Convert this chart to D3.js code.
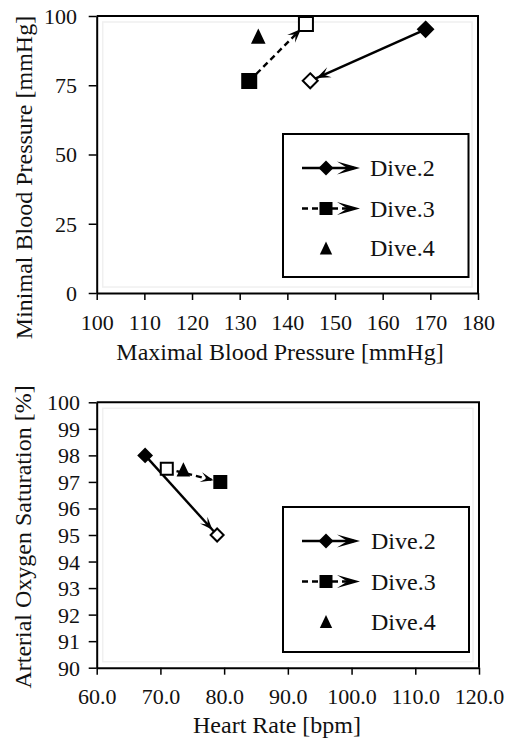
<!DOCTYPE html>
<html><head><meta charset="utf-8">
<script src="https://cdn.jsdelivr.net/npm/d3@7"></script>
<style>body{margin:0;background:#fff}svg{display:block}
svg text{font-family:"Liberation Serif","DejaVu Serif",serif;fill:#111}</style>
</head><body><svg id="c" width="508" height="740"></svg>
<script>
// ---------- DATA ----------
const seriesNames = ["Dive.2", "Dive.3", "Dive.4"];
// Top chart: [start, end] of each dive (Dive.4 single point)
const bpMaxValues = [[169, 144.8], [132, 143.9], [133.9]];
const bpMinValues = [[95.2, 76.6], [76.5, 97.1], [92.5]];
const bpXTicks = [100, 110, 120, 130, 140, 150, 160, 170, 180];
const bpYTicks = [0, 25, 50, 75, 100];
// Bottom chart: [start, end] of each dive (Dive.4 single point)
const hrValues = [[67.6, 78.9], [71.0, 79.4], [73.6]];
const spo2Values = [[98.0, 95.0], [97.5, 97.0], [97.45]];
const hrXTicks = [60, 70, 80, 90, 100, 110, 120];
const spo2YTicks = [90, 91, 92, 93, 94, 95, 96, 97, 98, 99, 100];

// ---------- DRAWING ----------
const svg = d3.select("#c");
svg.append("rect").attr("width", 508).attr("height", 740).attr("fill", "#fff");

function markerPath(type, s) {
  const h = s / 2;
  if (type === "diamond") return `M0,${-h}L${h},0L0,${h}L${-h},0Z`;
  if (type === "square") return `M${-h},${-h}H${h}V${h}H${-h}Z`;
  return `M0,${-h}L${h * 0.95},${h}L${-h * 0.95},${h}Z`;
}
function arrowPath(L, W) {
  return `M0,0L${-L},${-W / 2}L${-L * 0.55},0L${-L},${W / 2}Z`;
}
const markerTypes = ["diamond", "square", "triangle"];

function drawChart(o) {
  const g = svg.append("g");
  const x = d3.scaleLinear().domain(o.xDomain).range([o.left, o.right]);
  const y = d3.scaleLinear().domain(o.yDomain).range([o.bottom, o.top]);

  g.append("rect").attr("x", o.left + 6).attr("y", o.top + 6)
    .attr("width", o.right - o.left - 12).attr("height", o.bottom - o.top - 12)
    .attr("fill", "none").attr("stroke", "#f0f0f0").attr("stroke-width", 1.5);

  const xa = g.append("g").attr("transform", `translate(0,${o.bottom})`)
    .call(d3.axisBottom(x).tickValues(o.xTicks).tickFormat(o.xFmt).tickSize(7).tickSizeOuter(0));
  const ya = g.append("g").attr("transform", `translate(${o.left},0)`)
    .call(d3.axisLeft(y).tickValues(o.yTicks).tickFormat(d3.format("d")).tickSize(8).tickSizeOuter(0));
  [xa, ya].forEach(a => {
    a.attr("font-family", null).attr("font-size", null);
    a.select(".domain").attr("stroke", "#000").attr("stroke-width", 2);
    a.selectAll(".tick line").attr("stroke", "#000").attr("stroke-width", 1.5);
    a.selectAll("text").style("font-size", "22px").attr("fill", "#111");
  });
  xa.selectAll("text").attr("y", o.xLabelOff).attr("dy", 0);
  ya.selectAll("text").attr("x", o.yLabelX - o.left).attr("dy", "0.34em");

  g.append("path").attr("d", `M${o.left},${o.top}H${o.right}V${o.bottom}`)
    .attr("fill", "none").attr("stroke", "#000").attr("stroke-width", 2);

  const xs = o.xVals, ys = o.yVals;
  seriesNames.forEach((name, i) => {
    const pts = xs[i].map((v, j) => [x(v), y(ys[i][j])]);
    if (pts.length === 2) {
      const [p0, p1] = pts;
      g.append("line").attr("x1", p0[0]).attr("y1", p0[1]).attr("x2", p1[0]).attr("y2", p1[1])
        .attr("stroke", "#000").attr("stroke-width", 2.4)
        .attr("stroke-dasharray", i === 1 ? "6,4" : null);
      const ang = Math.atan2(p1[1] - p0[1], p1[0] - p0[0]);
      const tx = p1[0] - Math.cos(ang) * o.tipOff, ty = p1[1] - Math.sin(ang) * o.tipOff;
      g.append("path").attr("d", arrowPath(o.arrL, o.arrW))
        .attr("transform", `translate(${tx},${ty}) rotate(${ang * 180 / Math.PI})`)
        .attr("fill", "#000");
    }
    pts.forEach((p, j) => {
      const filled = pts.length === 1 || j === o.filledIdx[i];
      g.append("path").attr("d", markerPath(markerTypes[i], o.msize[i]))
        .attr("transform", `translate(${p[0]},${p[1]})`)
        .attr("fill", filled ? "#000" : "#fff").attr("stroke", "#000").attr("stroke-width", 2);
    });
  });

  g.append("text").attr("x", o.xTitleX).attr("y", o.xTitleY).attr("text-anchor", "middle")
    .style("font-size", "24px").text(o.xTitle);
  g.append("text").attr("transform", `translate(${o.yTitleX},${o.yTitleY}) rotate(-90)`)
    .attr("text-anchor", "middle").style("font-size", "24px").text(o.yTitle);

  const L = o.legend;
  g.append("rect").attr("x", L.x).attr("y", L.y).attr("width", L.w).attr("height", L.h)
    .attr("fill", "#fff").attr("stroke", "#000").attr("stroke-width", 2);
  seriesNames.forEach((name, i) => {
    const cy = L.rows[i];
    if (i < 2) {
      g.append("line").attr("x1", L.sx0).attr("x2", L.tip - 6).attr("y1", cy).attr("y2", cy)
        .attr("stroke", "#000").attr("stroke-width", 2.4)
        .attr("stroke-dasharray", i === 1 ? "6,4" : null);
      g.append("path").attr("d", arrowPath(23, 13))
        .attr("transform", `translate(${L.tip},${cy})`).attr("fill", "#000");
    }
    g.append("path").attr("d", markerPath(markerTypes[i], i === 0 ? 15 : 13))
      .attr("transform", `translate(${L.mx},${cy})`).attr("fill", "#000");
    g.append("text").attr("x", L.tx).attr("y", cy + 8).style("font-size", "24px").text(name);
  });
}

drawChart({
  xDomain: [100, 180], yDomain: [0, 100], left: 96.7, right: 478, top: 16, bottom: 293,
  xTicks: bpXTicks, yTicks: bpYTicks, xFmt: d3.format("d"),
  xLabelOff: 37, yLabelX: 77,
  xVals: bpMaxValues, yVals: bpMinValues, filledIdx: [0, 0],
  msize: [15, 14, 12], tipOff: 7, arrL: 14, arrW: 11,
  xTitle: "Maximal Blood Pressure [mmHg]", xTitleX: 280, xTitleY: 360,
  yTitle: "Minimal Blood Pressure [mmHg]", yTitleX: 32, yTitleY: 177.5,
  legend: { x: 283, y: 134, w: 185.5, h: 143, rows: [168, 208.5, 248], sx0: 302, mx: 326, tip: 360, tx: 370 }
});
drawChart({
  xDomain: [60, 120], yDomain: [90, 100], left: 96.7, right: 479, top: 402.3, bottom: 667.7,
  xTicks: hrXTicks, yTicks: spo2YTicks, xFmt: d3.format(".1f"),
  xLabelOff: 36, yLabelX: 80,
  xVals: hrValues, yVals: spo2Values, filledIdx: [0, 1],
  msize: [13, 12, 11], tipOff: 7, arrL: 13, arrW: 10,
  xTitle: "Heart Rate [bpm]", xTitleX: 277, xTitleY: 733,
  yTitle: "Arterial Oxygen Saturation [%]", yTitleX: 31, yTitleY: 537,
  legend: { x: 283, y: 507, w: 186, h: 145, rows: [541, 581.5, 621.5], sx0: 302, mx: 326, tip: 360, tx: 371 }
});
</script></body></html>
